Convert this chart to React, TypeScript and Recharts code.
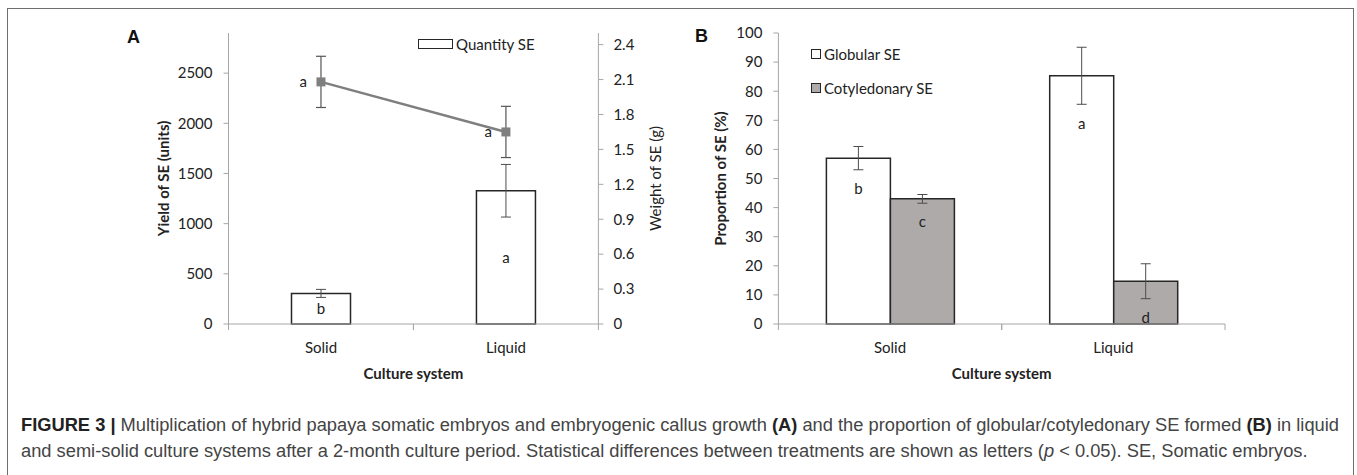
import React from "react";
import {
  ComposedChart,
  BarChart,
  Bar,
  Line,
  XAxis,
  YAxis,
  ErrorBar,
  LabelList,
  Legend,
} from "recharts";

// values
const categories = ["Solid", "Liquid"];

const quantitySE = [305, 1328];
const quantitySEErr = [40, 262];
const quantityLetters = ["b", "a"];

const weightSE = [2.08, 1.65];
const weightSEErr = [0.22, 0.22];
const weightLetters = ["a", "a"];

const globularSE = [57, 85.3];
const globularSEErr = [4, 9.8];
const globularLetters = ["b", "a"];

const cotyledonarySE = [43, 14.7];
const cotyledonarySEErr = [1.5, 6];
const cotyledonaryLetters = ["c", "d"];

const yieldTicks = [0, 500, 1000, 1500, 2000, 2500];
const weightTicks = [0, 0.3, 0.6, 0.9, 1.2, 1.5, 1.8, 2.1, 2.4];
const proportionTicks = [0, 10, 20, 30, 40, 50, 60, 70, 80, 90, 100];

const panelA = categories.map((c, i) => ({
  category: c,
  quantity: quantitySE[i],
  quantityErr: quantitySEErr[i],
  quantityLetter: quantityLetters[i],
  weight: weightSE[i],
  weightErr: weightSEErr[i],
  weightLetter: weightLetters[i],
}));

const panelB = categories.map((c, i) => ({
  category: c,
  globular: globularSE[i],
  globularErr: globularSEErr[i],
  cotyledonary: cotyledonarySE[i],
  cotyledonaryErr: cotyledonarySEErr[i],
}));

const AXIS = "#a6a6a6";
const INK = "#222";
const FONT = "Lato, 'Open Sans', sans-serif";
const tickStyle = { fill: INK, fontSize: 15, fontFamily: FONT };

// plot widths (used for the between-category tick marks)
const A_PLOT_W = 369.9;
const B_PLOT_W = 446.6;

const makeCategoryTick = (halfBand: number) => (props: any) => {
  const { x, y, payload } = props;
  return (
    <g>
      <line x1={x - halfBand} x2={x - halfBand} y1={y} y2={y + 6} stroke={AXIS} />
      <line x1={x + halfBand} x2={x + halfBand} y1={y} y2={y + 6} stroke={AXIS} />
      <text x={x} y={y + 24} dy="0.35em" textAnchor="middle" {...tickStyle}>
        {payload.value}
      </text>
    </g>
  );
};

const yTitle = (text: string, side: "left" | "right", dist: number, bold: boolean) => (props: any) => {
  const vb = props.viewBox || {};
  const cx = side === "left" ? vb.x + vb.width - dist : vb.x + dist;
  const cy = vb.y + vb.height / 2;
  return (
    <text
      x={cx}
      y={cy}
      transform={`rotate(-90 ${cx} ${cy})`}
      textAnchor="middle"
      dominantBaseline="central"
      fill={INK}
      fontFamily={FONT}
      fontSize={15}
      fontWeight={bold ? 700 : 400}
    >
      {text}
    </text>
  );
};

const xTitle = (props: any) => {
  const vb = props.viewBox || {};
  return (
    <text
      x={vb.x + vb.width / 2}
      y={vb.y + 49}
      textAnchor="middle"
      dominantBaseline="central"
      fill={INK}
      fontFamily={FONT}
      fontSize={15}
      fontWeight={700}
    >
      Culture system
    </text>
  );
};

// letter placed just under the lower end of the error bar
const belowErrorLabel = (errors: number[], letters: string[]) => (props: any) => {
  const vb = props.viewBox || props;
  const { x, y, width, height } = vb;
  const i = props.index;
  const v = Number(props.value);
  const low = y + (errors[i] * height) / v;
  return (
    <text x={x + width / 2} y={low + 19} dy="0.35em" textAnchor="middle" {...tickStyle}>
      {letters[i]}
    </text>
  );
};

const SquareDot = (props: any) => {
  const { cx, cy, index } = props;
  return <rect key={index} x={cx - 4.5} y={cy - 4.5} width={9} height={9} fill="#7f7f7f" />;
};

const legendText = { fontFamily: FONT, fontSize: 15, color: INK, lineHeight: "18px" };

const LegendA = () => (
  <div style={{ display: "flex", alignItems: "center" }}>
    <span style={{ width: 33, height: 8, border: "1.5px solid #262626", background: "#fff", marginRight: 3 }} />
    <span style={legendText}>Quantity SE</span>
  </div>
);

const LegendB = () => (
  <div>
    <div style={{ display: "flex", alignItems: "center", height: 18 }}>
      <span style={{ width: 8, height: 8, border: "1.5px solid #262626", background: "#fff", marginRight: 3 }} />
      <span style={legendText}>Globular SE</span>
    </div>
    <div style={{ display: "flex", alignItems: "center", height: 18, marginTop: 16 }}>
      <span style={{ width: 8, height: 8, border: "1.5px solid #262626", background: "#aeaaa9", marginRight: 3 }} />
      <span style={legendText}>Cotyledonary SE</span>
    </div>
  </div>
);

const PanelLetter = ({ left, top, children }: any) => (
  <div
    style={{
      position: "absolute",
      left,
      top,
      fontFamily: "'Liberation Sans', Arial, sans-serif",
      fontWeight: 700,
      fontSize: 18,
      color: "#111",
      lineHeight: "18px",
    }}
  >
    {children}
  </div>
);

const capStyle = {
  position: "absolute" as const,
  left: 21,
  whiteSpace: "nowrap" as const,
  fontFamily: "'Liberation Sans', Arial, sans-serif",
  fontSize: 18.3,
  color: "#444",
  lineHeight: "22px",
};

export default function App() {
  return (
    <div style={{ position: "relative", width: 1357, height: 475, background: "#fff", overflow: "hidden" }}>
      <style>{`body{margin:0}`}</style>
      <div
        style={{
          position: "absolute",
          left: 7,
          top: 8,
          width: 1347,
          height: 490,
          border: "1.5px solid #6e6e6e",
          boxSizing: "border-box",
        }}
      />

      <div style={{ position: "absolute", left: 0, top: 0 }}>
        <ComposedChart
          width={680}
          height={400}
          data={panelA}
          margin={{ top: 33, right: 0, bottom: 0, left: 0 }}
          barSize={59}
        >
          <XAxis
            dataKey="category"
            height={76}
            tickLine={false}
            tickSize={0}
            tickMargin={0}
            axisLine={{ stroke: AXIS }}
            tick={makeCategoryTick(A_PLOT_W / 4)}
            label={xTitle}
          />
          <YAxis
            yAxisId="left"
            width={228.5}
            domain={[0, 2900]}
            ticks={yieldTicks}
            interval={0}
            tickSize={5}
            tickMargin={11}
            axisLine={{ stroke: AXIS }}
            tickLine={{ stroke: AXIS }}
            tick={tickStyle}
            label={yTitle("Yield of SE (units)", "left", 65.5, true)}
          />
          <YAxis
            yAxisId="right"
            orientation="right"
            width={81.6}
            domain={[0, 2.5]}
            ticks={weightTicks}
            interval={0}
            tickSize={5}
            tickMargin={10}
            axisLine={{ stroke: AXIS }}
            tickLine={{ stroke: AXIS }}
            tick={tickStyle}
            label={yTitle("Weight of SE (g)", "right", 56.6, false)}
          />
          <Bar
            yAxisId="left"
            dataKey="quantity"
            name="Quantity SE"
            fill="#fff"
            stroke="#262626"
            strokeWidth={1.5}
            isAnimationActive={false}
          >
            <ErrorBar dataKey="quantityErr" width={5} stroke="#4d4d4d" strokeWidth={1} />
            <LabelList dataKey="quantityLetter" position="center" {...tickStyle} />
          </Bar>
          <Line
            yAxisId="right"
            dataKey="weight"
            stroke="#7f7f7f"
            strokeWidth={2.5}
            dot={SquareDot}
            activeDot={false}
            isAnimationActive={false}
          >
            <ErrorBar dataKey="weightErr" width={5} stroke="#555" strokeWidth={1.2} />
            <LabelList dataKey="weightLetter" position="left" offset={14} {...tickStyle} />
          </Line>
          <Legend
            layout="vertical"
            align="center"
            verticalAlign="middle"
            content={LegendA}
            wrapperStyle={{ left: 418, top: 35, width: "auto", height: "auto" }}
          />
        </ComposedChart>
      </div>

      <div style={{ position: "absolute", left: 680, top: 0 }}>
        <BarChart
          width={600}
          height={400}
          data={panelB}
          margin={{ top: 33, right: 55, bottom: 0, left: 0 }}
          barSize={64}
          barGap={0}
        >
          <XAxis
            dataKey="category"
            height={76}
            tickLine={false}
            tickSize={0}
            tickMargin={0}
            axisLine={{ stroke: AXIS }}
            tick={makeCategoryTick(B_PLOT_W / 4)}
            label={xTitle}
          />
          <YAxis
            width={98.4}
            domain={[0, 100]}
            ticks={proportionTicks}
            interval={0}
            tickSize={5}
            tickMargin={11}
            axisLine={{ stroke: AXIS }}
            tickLine={{ stroke: AXIS }}
            tick={tickStyle}
            label={yTitle("Proportion of SE (%)", "left", 58.4, true)}
          />
          <Bar
            dataKey="globular"
            name="Globular SE"
            fill="#fff"
            stroke="#262626"
            strokeWidth={1.5}
            isAnimationActive={false}
          >
            <ErrorBar dataKey="globularErr" width={5} stroke="#4d4d4d" strokeWidth={1} />
            <LabelList dataKey="globular" content={belowErrorLabel(globularSEErr, globularLetters)} />
          </Bar>
          <Bar
            dataKey="cotyledonary"
            name="Cotyledonary SE"
            fill="#aeaaa9"
            stroke="#262626"
            strokeWidth={1.5}
            isAnimationActive={false}
          >
            <ErrorBar dataKey="cotyledonaryErr" width={5} stroke="#4d4d4d" strokeWidth={1} />
            <LabelList dataKey="cotyledonary" content={belowErrorLabel(cotyledonarySEErr, cotyledonaryLetters)} />
          </Bar>
          <Legend
            layout="vertical"
            align="center"
            verticalAlign="middle"
            content={LegendB}
            wrapperStyle={{ left: 131, top: 45, width: "auto", height: "auto" }}
          />
        </BarChart>
      </div>

      <PanelLetter left={127} top={28}>A</PanelLetter>
      <PanelLetter left={695} top={27}>B</PanelLetter>

      <div style={{ ...capStyle, top: 414 }}>
        <b style={{ color: "#222" }}>FIGURE 3 |</b> Multiplication of hybrid papaya somatic embryos and
        embryogenic callus growth <b style={{ color: "#222" }}>(A)</b> and the proportion of
        globular/cotyledonary SE formed <b style={{ color: "#222" }}>(B)</b> in liquid
      </div>
      <div style={{ ...capStyle, top: 440 }}>
        and semi-solid culture systems after a 2-month culture period. Statistical differences between
        treatments are shown as letters (<i>p</i> &lt; 0.05). SE, Somatic embryos.
      </div>
    </div>
  );
}
